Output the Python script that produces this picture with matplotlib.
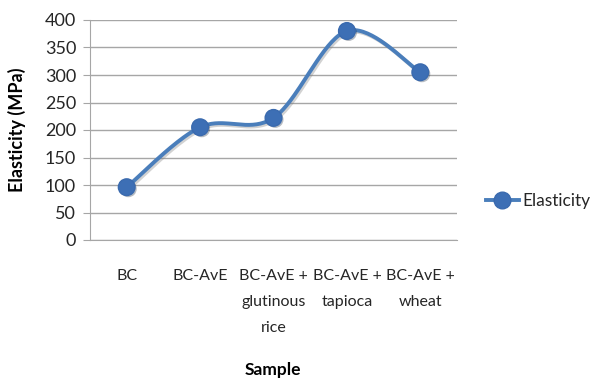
import numpy as np
import matplotlib.pyplot as plt
from matplotlib.lines import Line2D
import matplotlib.patheffects as pe

samples = ["BC", "BC-AvE", "BC-AvE +\nglutinous\nrice", "BC-AvE +\ntapioca", "BC-AvE +\nwheat"]
elasticity = [96, 205, 222, 380, 305]
y_ticks = [0, 50, 100, 150, 200, 250, 300, 350, 400]

FONT = "Lato"
LINE_C = "#4A7EBB"
MARK_C = "#3D6FB5"
GRID_C = "#A6A6A6"
TEXT_C = "#262626"


def smooth_path(xs, ys, steps=40, tension=0.5):
    """Cardinal-spline curve through the points, like a smoothed line chart."""
    xs = np.asarray(xs, float)
    ys = np.asarray(ys, float)
    px = np.concatenate([[xs[0]], xs, [xs[-1]]])
    py = np.concatenate([[ys[0]], ys, [ys[-1]]])
    out_x, out_y = [], []
    for i in range(1, len(px) - 2):
        p0, p1, p2, p3 = (np.array([px[j], py[j]]) for j in (i - 1, i, i + 1, i + 2))
        m1 = tension * (p2 - p0)
        m2 = tension * (p3 - p1)
        t = np.linspace(0, 1, steps)[:, None]
        h00 = 2 * t**3 - 3 * t**2 + 1
        h10 = t**3 - 2 * t**2 + t
        h01 = -2 * t**3 + 3 * t**2
        h11 = t**3 - t**2
        seg = h00 * p1 + h10 * m1 + h01 * p2 + h11 * m2
        out_x.extend(seg[:, 0])
        out_y.extend(seg[:, 1])
    return np.array(out_x), np.array(out_y)


fig = plt.figure(figsize=(5.92, 3.82), dpi=100)
ax = fig.add_axes([90 / 592, 1 - 240 / 382, 367 / 592, 220 / 382])

x = np.arange(len(samples))
sx, sy = smooth_path(x, elasticity)
shadow = [pe.SimpleLineShadow(offset=(1.2, -1.2), shadow_color="#7f7f7f", alpha=0.35), pe.Normal()]
ax.plot(sx, sy, color=LINE_C, lw=2.8, solid_capstyle="round", path_effects=shadow, zorder=3)
ax.plot(x, elasticity, linestyle="none", marker="o", ms=12, mfc=MARK_C,
        mec="#3A6AAE", mew=1.0, zorder=4,
        path_effects=[pe.SimplePatchShadow(offset=(1.2, -1.2), alpha=0.3), pe.Normal()])

ax.set_xlim(-0.5, len(samples) - 0.5)
ax.set_ylim(0, 400)
ax.set_yticks(y_ticks)
ax.yaxis.grid(True, color=GRID_C, lw=1)
ax.set_axisbelow(True)

for side in ("top", "right"):
    ax.spines[side].set_visible(False)
ax.spines["left"].set_color(GRID_C)
ax.spines["bottom"].set_color(GRID_C)

ax.tick_params(axis="y", direction="out", length=5, color=GRID_C, labelsize=13, pad=5)
ax.tick_params(axis="x", length=0, labelsize=11.5, pad=21)
ax.set_xticks(x)
ax.set_xticklabels(samples, fontfamily=FONT, linespacing=2.1, va="top")
for lbl in ax.get_yticklabels():
    lbl.set_fontfamily(FONT)
    lbl.set_color(TEXT_C)
for lbl in ax.get_xticklabels():
    lbl.set_color(TEXT_C)

fig.text(17 / 592, 1 - 130 / 382, "Elasticity (MPa)", fontfamily=FONT, fontweight="bold",
         fontsize=13, rotation=90, ha="center", va="center", color="black")
fig.text(273 / 592, 1 - 370 / 382, "Sample", fontfamily=FONT, fontweight="bold",
         fontsize=12.5, ha="center", va="center", color="black")

handle = Line2D([], [], color=LINE_C, lw=2.8, marker="o", ms=12, mfc=MARK_C, mec="#3A6AAE")
fig.legend([handle], ["Elasticity"], loc="center left", bbox_to_anchor=(486 / 592, 1 - 201 / 382),
           frameon=False, prop={"family": FONT, "size": 12.5}, handlelength=1.9,
           handletextpad=0.2, borderaxespad=0, borderpad=0, labelcolor=TEXT_C)

fig.savefig("out.png", dpi=100, facecolor="white")
